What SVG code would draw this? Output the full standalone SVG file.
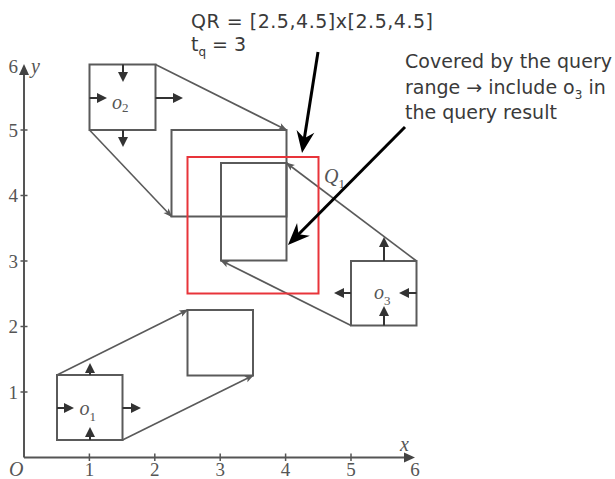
<svg xmlns="http://www.w3.org/2000/svg" width="615" height="479" viewBox="0 0 615 479">
<style>
.box{fill:none;stroke:#5a5a5a;stroke-width:2}
.qr{fill:none;stroke:#e8343a;stroke-width:2}
.conn{fill:none;stroke:#5a5a5a;stroke-width:1.6;marker-end:url(#ca)}
.dir{stroke:#333;stroke-width:2;marker-end:url(#da)}
.axis{stroke:#555;stroke-width:2}
.tick{stroke:#555;stroke-width:1.5}
.call{stroke:#000;stroke-width:3;marker-end:url(#ba)}
.num{font-family:"Liberation Serif",serif;font-size:19px;fill:#555}
.it{font-family:"Liberation Serif",serif;font-style:italic;font-size:20px;fill:#555}
.sub{font-family:"Liberation Serif",serif;font-size:13px;fill:#555;font-style:normal}
.note{font-family:"DejaVu Sans",Verdana,sans-serif;font-size:19px;fill:#3a3a3a}
</style>
<defs>
<marker id="ca" markerUnits="userSpaceOnUse" markerWidth="14" markerHeight="10" viewBox="-10 -5 12 10" refX="-1" refY="0" orient="auto"><path d="M0,0 L-9,-3.5 L-7,0 L-9,3.5 Z" fill="#5a5a5a"/></marker>
<marker id="da" markerUnits="userSpaceOnUse" markerWidth="14" markerHeight="12" viewBox="-12 -6 14 12" refX="-4" refY="0" orient="auto"><path d="M0,0 L-10,-5 L-10,5 Z" fill="#333"/></marker>
<marker id="ba" markerUnits="userSpaceOnUse" markerWidth="26" markerHeight="22" viewBox="-24 -11 26 22" refX="-12" refY="0" orient="auto"><path d="M0,0 L-22,-9 L-15,0 L-22,9 Z" fill="#000"/></marker>
<marker id="aa" markerUnits="userSpaceOnUse" markerWidth="14" markerHeight="12" viewBox="-12 -6 14 12" refX="-3" refY="0" orient="auto"><path d="M0,0 L-11,-5 L-11,5 Z" fill="#444"/></marker>
</defs>
<g id="axes">
<line class="axis" x1="24" y1="457.5" x2="24" y2="67" marker-end="url(#aa)"/>
<line class="axis" x1="24" y1="457.5" x2="412" y2="457.5" marker-end="url(#aa)"/>
<line class="tick" x1="89.4" y1="453.5" x2="89.4" y2="461"/>
<line class="tick" x1="154.8" y1="453.5" x2="154.8" y2="461"/>
<line class="tick" x1="220.2" y1="453.5" x2="220.2" y2="461"/>
<line class="tick" x1="285.6" y1="453.5" x2="285.6" y2="461"/>
<line class="tick" x1="351" y1="453.5" x2="351" y2="461"/>
<line class="tick" x1="20.5" y1="392" x2="27.5" y2="392"/>
<line class="tick" x1="20.5" y1="326.5" x2="27.5" y2="326.5"/>
<line class="tick" x1="20.5" y1="261" x2="27.5" y2="261"/>
<line class="tick" x1="20.5" y1="195.5" x2="27.5" y2="195.5"/>
<line class="tick" x1="20.5" y1="130" x2="27.5" y2="130"/>
<text class="it" x="9" y="476">O</text>
<text class="num" x="89.4" y="476" text-anchor="middle">1</text>
<text class="num" x="154.8" y="476" text-anchor="middle">2</text>
<text class="num" x="220.2" y="476" text-anchor="middle">3</text>
<text class="num" x="285.6" y="476" text-anchor="middle">4</text>
<text class="num" x="351" y="476" text-anchor="middle">5</text>
<text class="num" x="415" y="476" text-anchor="middle">6</text>
<text class="num" x="18" y="398.5" text-anchor="end">1</text>
<text class="num" x="18" y="333" text-anchor="end">2</text>
<text class="num" x="18" y="267.5" text-anchor="end">3</text>
<text class="num" x="18" y="202" text-anchor="end">4</text>
<text class="num" x="18" y="136.5" text-anchor="end">5</text>
<text class="num" x="18" y="73" text-anchor="end">6</text>
<text class="it" x="31" y="73">y</text>
<text class="it" x="400" y="451">x</text>
</g>
<g id="connectors">
<line class="conn" x1="57" y1="375" x2="187.5" y2="310"/>
<line class="conn" x1="122.5" y1="440" x2="253" y2="375.5"/>
<line class="conn" x1="155.5" y1="64.5" x2="286.5" y2="130"/>
<line class="conn" x1="89.5" y1="130" x2="171.5" y2="216.5"/>
<line class="conn" x1="416.5" y1="261" x2="286.5" y2="163"/>
<line class="conn" x1="351" y1="325.5" x2="221" y2="260.5"/>
</g>
<g id="o1">
<rect class="box" x="57" y="375" width="65.5" height="65"/>
<line class="dir" x1="57" y1="408" x2="70" y2="408"/>
<line class="dir" x1="122.5" y1="408" x2="137" y2="408"/>
<line class="dir" x1="90" y1="440" x2="90" y2="431"/>
<line class="dir" x1="90" y1="375" x2="90" y2="367"/>
<text class="it" x="79.5" y="415">o<tspan class="sub" dy="6">1</tspan></text>
</g>
<g id="o1-future">
<rect class="box" x="187.5" y="310" width="65.5" height="65.5"/>
</g>
<g id="o2">
<rect class="box" x="89.5" y="64.5" width="66" height="65.5"/>
<line class="dir" x1="123" y1="64.5" x2="123" y2="78"/>
<line class="dir" x1="123" y1="130" x2="123" y2="143"/>
<line class="dir" x1="89.5" y1="98" x2="103" y2="98"/>
<line class="dir" x1="155.5" y1="98" x2="179" y2="98"/>
<text class="it" x="112" y="109">o<tspan class="sub" dy="3">2</tspan></text>
</g>
<g id="o2-future">
<rect class="box" x="171.5" y="130" width="115" height="86.5"/>
</g>
<g id="o3-future">
<rect class="box" x="221" y="163" width="65.5" height="97.5"/>
</g>
<g id="query">
<rect class="qr" x="187.5" y="157" width="131" height="136.5"/>
<text class="it" x="324" y="183">Q<tspan class="sub" dy="5">1</tspan></text>
</g>
<g id="o3">
<rect class="box" x="351" y="261" width="65.5" height="64.5"/>
<line class="dir" x1="384" y1="261" x2="384" y2="241"/>
<line class="dir" x1="384" y1="325.5" x2="384" y2="310"/>
<line class="dir" x1="351" y1="293" x2="338" y2="293"/>
<line class="dir" x1="416.5" y1="293" x2="403" y2="293"/>
<text class="it" x="374" y="299">o<tspan class="sub" dy="6">3</tspan></text>
</g>
<g id="callouts">
<line class="call" x1="318" y1="52" x2="303.9" y2="141.2"/>
<line class="call" x1="405" y1="127" x2="296.4" y2="236.5"/>
<text class="note" x="191" y="28" textLength="242" lengthAdjust="spacing">QR = [2.5,4.5]x[2.5,4.5]</text>
<text class="note" x="191" y="51">t<tspan font-size="12" dy="5">q</tspan><tspan dy="-5"> = 3</tspan></text>
<text class="note" x="405" y="68" textLength="207" lengthAdjust="spacing">Covered by the query</text>
<text class="note" x="405" y="94">range → include o<tspan font-size="12" dy="5">3</tspan><tspan dy="-5"> in</tspan></text>
<text class="note" x="405" y="119">the query result</text>
</g>
</svg>
